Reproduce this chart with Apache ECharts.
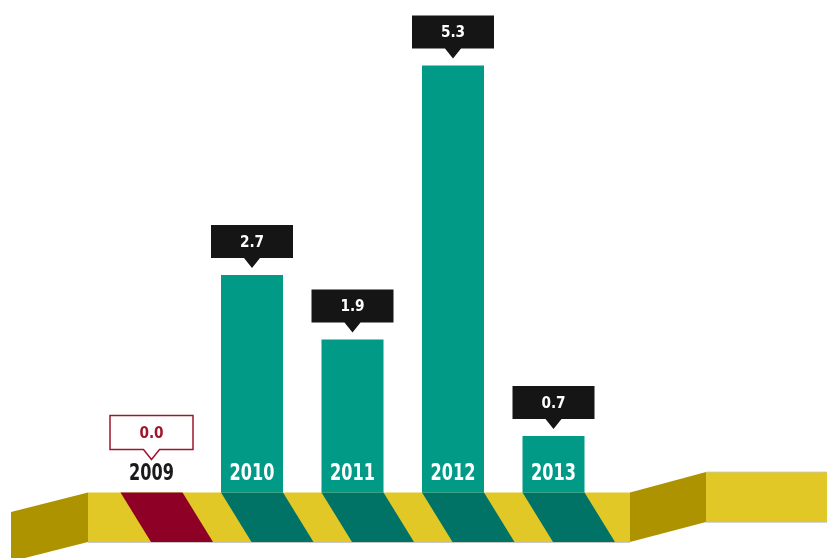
<!DOCTYPE html>
<html>
<head>
<meta charset="utf-8">
<script src="https://cdn.jsdelivr.net/npm/echarts@6/dist/echarts.min.js"></script>
<style>
  html, body { margin: 0; padding: 0; background: #ffffff; }
  #chart { width: 827px; height: 558px; }
</style>
</head>
<body>
<div id="chart"></div>
<script>
// Yearly values shown on the striped "road" base
const years = ['2009', '2010', '2011', '2012', '2013'];
const values = [0.0, 2.7, 1.9, 5.3, 0.7];
const valueLabels = ['0.0', '2.7', '1.9', '5.3', '0.7'];

const COLORS = {
  bar: '#009A87',
  stripe: '#007366',
  stripeZero: '#8E0026',
  yellow: '#E2C826',
  olive: '#AD9300',
  edge: '#C8C8C8',
  callout: '#151515',
  zeroText: '#A0142E',
  yearDark: '#1A1A1A'
};

const YEAR_FONT = '"Liberation Sans Narrow", "DejaVu Sans Condensed", sans-serif';
const VALUE_FONT = '"DejaVu Sans Condensed", "Liberation Sans Narrow", sans-serif';

const BAR_W = 62;
const BAND_H = 49.5;
const SLANT = 30.5;

const chart = echarts.init(document.getElementById('chart'), null, { renderer: 'canvas' });

// Striped base band with folded ends, laid out from the category positions
function renderBand(params, api) {
  if (params.dataIndex !== 0) return null;
  const n = years.length;
  const first = api.coord([0, 0]);
  const last = api.coord([n - 1, 0]);
  const y0 = first[1];
  const y1 = y0 + BAND_H;
  const bandL = first[0] - 63.5;
  const bandR = last[0] + 76.5;
  const fullW = api.getWidth();
  const children = [];

  // left folded piece
  children.push({
    type: 'polygon',
    shape: { points: [[bandL - 77, y0 + 19.5], [bandL, y0], [bandL, y1], [bandL - 77, y1 + 19.5]] },
    style: { fill: COLORS.olive }
  });
  // main yellow band
  children.push({
    type: 'rect',
    shape: { x: bandL, y: y0, width: bandR - bandL, height: BAND_H },
    style: { fill: COLORS.yellow }
  });
  // diagonal stripes under each category
  for (let i = 0; i < n; i++) {
    const c = api.coord([i, 0])[0];
    children.push({
      type: 'polygon',
      shape: { points: [[c - BAR_W / 2, y0], [c + BAR_W / 2, y0], [c + BAR_W / 2 + SLANT, y1], [c - BAR_W / 2 + SLANT, y1]] },
      style: { fill: values[i] === 0 ? COLORS.stripeZero : COLORS.stripe }
    });
  }
  // thin lower edge of the band
  children.push({
    type: 'line',
    shape: { x1: bandL, y1: y1 + 0.5, x2: bandR, y2: y1 + 0.5 },
    style: { stroke: COLORS.edge, lineWidth: 1 }
  });
  // right folded piece rising to a raised flat section
  children.push({
    type: 'polygon',
    shape: { points: [[bandR, y0], [bandR + 76, y0 - 20.5], [bandR + 76, y1 - 20], [bandR, y1]] },
    style: { fill: COLORS.olive }
  });
  children.push({
    type: 'rect',
    shape: { x: bandR + 76, y: y0 - 20.5, width: fullW - bandR - 76, height: BAND_H + 0.5 },
    style: { fill: COLORS.yellow }
  });
  children.push({
    type: 'line',
    shape: { x1: bandR + 76, y1: y0 - 20.5, x2: fullW, y2: y0 - 20.5 },
    style: { stroke: COLORS.edge, lineWidth: 0.8 }
  });
  children.push({
    type: 'line',
    shape: { x1: bandR + 76, y1: y1 - 20 + 0.5, x2: fullW, y2: y1 - 20 + 0.5 },
    style: { stroke: COLORS.edge, lineWidth: 0.8 }
  });
  return { type: 'group', children: children };
}

// Callout boxes with a downward pointer above each bar
function renderCallout(params, api) {
  const i = api.value(0);
  const v = api.value(1);
  const p = api.coord([i, v]);
  const zero = v === 0;
  const gap = zero ? 33 : 7;
  const tipY = p[1] - gap;
  const boxW = zero ? 83 : 82;
  const boxH = zero ? 34 : 33;
  const ptrH = 10;
  const ptrHalf = 8;
  const bx = p[0] - boxW / 2;
  const by = tipY - ptrH - boxH;
  const pts = [
    [bx, by], [bx + boxW, by], [bx + boxW, by + boxH],
    [p[0] + ptrHalf, by + boxH], [p[0], tipY], [p[0] - ptrHalf, by + boxH],
    [bx, by + boxH]
  ];
  return {
    type: 'group',
    children: [
      {
        type: 'polygon',
        shape: { points: pts },
        style: zero
          ? { fill: '#ffffff', stroke: COLORS.zeroText, lineWidth: 1.5 }
          : { fill: COLORS.callout }
      },
      {
        type: 'text',
        x: p[0],
        y: by + boxH / 2 + 1,
        scaleX: 0.95,
        style: {
          text: valueLabels[params.dataIndex],
          fill: zero ? COLORS.zeroText : '#ffffff',
          font: 'bold 16px ' + VALUE_FONT,
          align: 'center',
          verticalAlign: 'middle'
        }
      }
    ]
  };
}

// Year names sitting at the foot of each bar (condensed horizontally)
function renderYear(params, api) {
  const i = api.value(0);
  const p = api.coord([i, 0]);
  const zero = values[params.dataIndex] === 0;
  return {
    type: 'text',
    x: p[0],
    y: p[1] - 18.5,
    scaleX: 0.78,
    style: {
      text: years[params.dataIndex],
      fill: zero ? COLORS.yearDark : '#ffffff',
      font: 'bold 23px ' + YEAR_FONT,
      align: 'center',
      verticalAlign: 'middle'
    }
  };
}

const pointData = values.map((v, i) => [i, v]);

chart.setOption({
  animation: false,
  backgroundColor: '#ffffff',
  grid: { left: 101.25, width: 502.5, top: 9, bottom: 65.5 },
  xAxis: {
    type: 'category',
    data: years,
    boundaryGap: true,
    axisLine: { show: false },
    axisTick: { show: false },
    axisLabel: { show: false },
    splitLine: { show: false }
  },
  yAxis: {
    type: 'value',
    min: 0,
    max: 6,
    show: false,
    splitLine: { show: false }
  },
  series: [
    {
      type: 'custom',
      name: 'base',
      renderItem: renderBand,
      data: pointData,
      z: 1,
      clip: false,
      silent: true
    },
    {
      type: 'bar',
      name: 'value',
      data: values,
      barWidth: BAR_W,
      itemStyle: { color: COLORS.bar },
      z: 2,
      silent: true
    },
    {
      type: 'custom',
      name: 'years',
      renderItem: renderYear,
      data: pointData,
      z: 3,
      clip: false,
      silent: true
    },
    {
      type: 'custom',
      name: 'callouts',
      renderItem: renderCallout,
      data: pointData,
      z: 4,
      clip: false,
      silent: true
    }
  ]
});
</script>
</body>
</html>
